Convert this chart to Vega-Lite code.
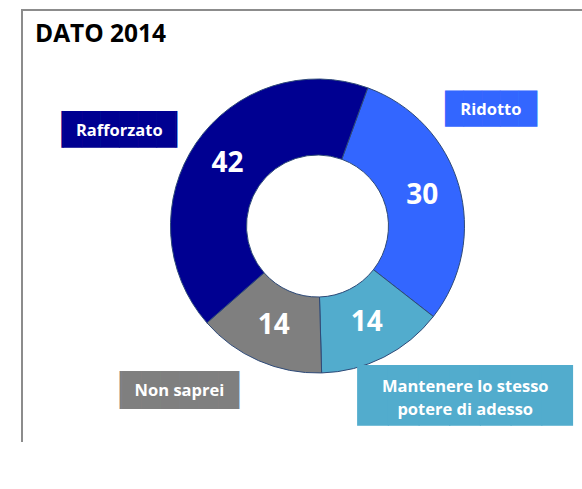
{
  "$schema": "https://vega.github.io/schema/vega-lite/v6.json",
  "width": 591,
  "height": 432,
  "autosize": {"type": "none"},
  "padding": {"left": 22, "top": 10, "right": 0, "bottom": 0},
  "background": "white",
  "view": {"stroke": "#8C8C8C", "strokeWidth": 2, "strokeDash": [591, 1023, 432]},
  "title": {
    "text": "DATO 2014",
    "anchor": "start",
    "font": "Open Sans",
    "fontSize": 24.5,
    "fontWeight": "bold",
    "color": "#000000",
    "offset": -37,
    "dx": 13
  },
  "data": {
    "values": [
      {"category": "Ridotto", "value": 30},
      {"category": "Mantenere lo stesso\npotere di adesso", "value": 14},
      {"category": "Non saprei", "value": 14},
      {"category": "Rafforzato", "value": 42}
    ]
  },
  "layer": [
    {
      "encoding": {
        "theta": {"field": "value", "type": "quantitative", "stack": true, "scale": {"range": [2.234, 8.517]}},
        "order": {"field": "category", "type": "nominal", "sort": "ascending"},
        "color": {
          "field": "category",
          "type": "nominal",
          "scale": {
            "domain": ["Rafforzato", "Ridotto", "Mantenere lo stesso\npotere di adesso", "Non saprei"],
            "range": ["#000091", "#3366FF", "#52ACCD", "#7F7F7F"]
          },
          "legend": null
        }
      },
      "layer": [
        {"mark": {"type": "arc", "innerRadius": 71, "outerRadius": 147, "stroke": "#2E4A78", "strokeWidth": 1}},
        {
          "mark": {"type": "text", "radius": 109, "font": "Open Sans", "fontWeight": "bold", "fontSize": 28, "baseline": "middle", "align": "center"},
          "encoding": {"text": {"field": "value", "type": "quantitative"}, "color": {"value": "white"}}
        }
      ]
    },
    {
      "transform": [
        {"stack": "value", "groupby": [], "sort": [{"field": "category", "order": "ascending"}], "as": ["v0", "v1"]},
        {"filter": {"field": "category", "equal": "Rafforzato"}}
      ],
      "encoding": {"theta": {"field": "v0", "type": "quantitative"}},
      "layer": [
        {
          "mark": {"type": "text", "text": "▕██████▏", "font": "DejaVu Sans Mono", "fontSize": 31, "radius": 220, "thetaOffset": 1.168, "baseline": "middle", "align": "center"},
          "encoding": {"color": {"field": "category", "type": "nominal", "legend": null}}
        },
        {
          "mark": {"type": "text", "font": "Open Sans", "fontWeight": "bold", "fontSize": 16.5, "color": "white", "radius": 220, "thetaOffset": 1.168, "baseline": "middle", "align": "center"},
          "encoding": {"text": {"field": "category", "type": "nominal"}}
        }
      ]
    },
    {
      "transform": [
        {"stack": "value", "groupby": [], "sort": [{"field": "category", "order": "ascending"}], "as": ["v0", "v1"]},
        {"filter": {"field": "category", "equal": "Ridotto"}}
      ],
      "encoding": {"theta": {"field": "v0", "type": "quantitative"}},
      "layer": [
        {
          "mark": {"type": "text", "text": "█████", "font": "DejaVu Sans Mono", "fontSize": 30.5, "radius": 208.4, "thetaOffset": 0.634, "baseline": "middle", "align": "center"},
          "encoding": {"color": {"field": "category", "type": "nominal", "legend": null}}
        },
        {
          "mark": {"type": "text", "font": "Open Sans", "fontWeight": "bold", "fontSize": 16.5, "color": "white", "radius": 208.4, "thetaOffset": 0.634, "baseline": "middle", "align": "center"},
          "encoding": {"text": {"field": "category", "type": "nominal"}}
        }
      ]
    },
    {
      "transform": [
        {"stack": "value", "groupby": [], "sort": [{"field": "category", "order": "ascending"}], "as": ["v0", "v1"]},
        {"filter": {"field": "category", "equal": "Non saprei"}}
      ],
      "encoding": {"theta": {"field": "v0", "type": "quantitative"}},
      "layer": [
        {
          "mark": {"type": "text", "text": "▕██████▏", "font": "DejaVu Sans Mono", "fontSize": 32, "radius": 214.8, "thetaOffset": 0.726, "baseline": "middle", "align": "center"},
          "encoding": {"color": {"field": "category", "type": "nominal", "legend": null}}
        },
        {
          "mark": {"type": "text", "font": "Open Sans", "fontWeight": "bold", "fontSize": 16.5, "color": "white", "radius": 214.8, "thetaOffset": 0.726, "baseline": "middle", "align": "center"},
          "encoding": {"text": {"field": "category", "type": "nominal"}}
        }
      ]
    },
    {
      "transform": [
        {"stack": "value", "groupby": [], "sort": [{"field": "category", "order": "ascending"}], "as": ["v0", "v1"]},
        {"filter": {"field": "category", "equal": "Mantenere lo stesso\npotere di adesso"}}
      ],
      "encoding": {"theta": {"field": "v0", "type": "quantitative"}},
      "layer": [
        {
          "mark": {"type": "text", "text": "███████", "font": "DejaVu Sans Mono", "fontSize": 51, "radius": 227, "thetaOffset": 0.199, "baseline": "middle", "align": "center"},
          "encoding": {"color": {"field": "category", "type": "nominal", "legend": null}}
        },
        {
          "mark": {"type": "text", "font": "Open Sans", "fontWeight": "bold", "fontSize": 16.5, "lineHeight": 23, "lineBreak": "\n", "color": "white", "radius": 227, "thetaOffset": 0.199, "baseline": "middle", "align": "center", "dy": -11.5},
          "encoding": {"text": {"field": "category", "type": "nominal"}}
        }
      ]
    }
  ]
}
